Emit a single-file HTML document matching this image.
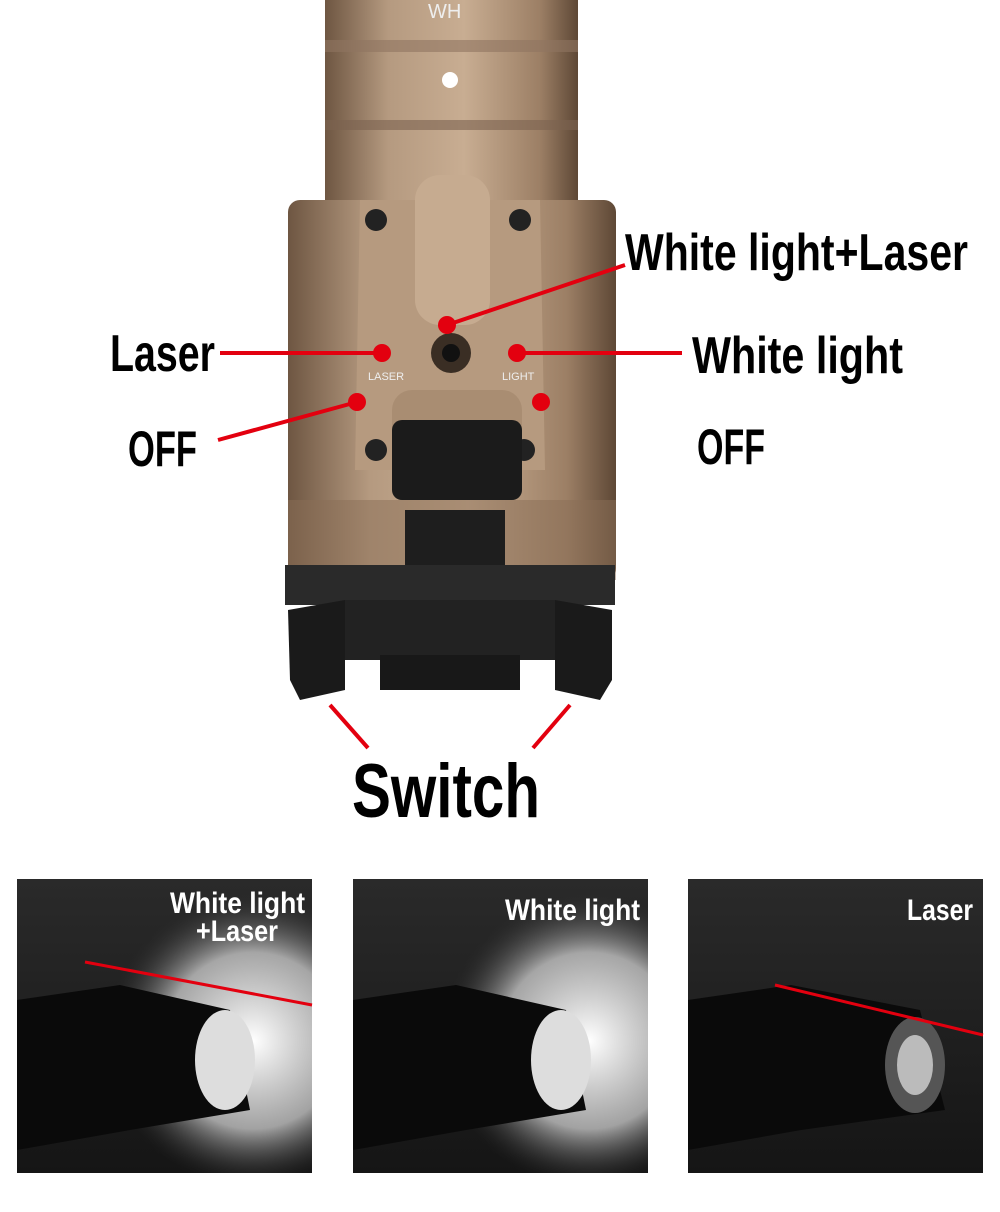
<!DOCTYPE html>
<html><head><meta charset="utf-8"><style>
html,body{margin:0;padding:0;background:#fff;}
svg{display:block}
.t{font-family:"Liberation Sans",sans-serif;font-weight:bold;fill:#000}
.w{font-family:"Liberation Sans",sans-serif;font-weight:bold;fill:#fff}
</style></head><body>
<svg width="1000" height="1212" viewBox="0 0 1000 1212" xmlns="http://www.w3.org/2000/svg">
<defs>
<linearGradient id="tan" x1="0" x2="1" y1="0" y2="0">
<stop offset="0" stop-color="#6e5642"/><stop offset="0.25" stop-color="#b59a80"/><stop offset="0.55" stop-color="#c8ad92"/><stop offset="0.85" stop-color="#9c7f65"/><stop offset="1" stop-color="#5e4836"/>
</linearGradient>
<radialGradient id="beam" cx="0.8" cy="0.55" r="0.5"><stop offset="0" stop-color="#fff"/><stop offset="0.6" stop-color="#ddd" stop-opacity="0.7"/><stop offset="1" stop-color="#333" stop-opacity="0"/></radialGradient>
<linearGradient id="bg" x1="0" x2="0" y1="0" y2="1"><stop offset="0" stop-color="#2a2a2a"/><stop offset="1" stop-color="#151515"/></linearGradient>
</defs>
<rect x="325" y="0" width="253" height="205" fill="url(#tan)"/>
<rect x="325" y="40" width="253" height="12" fill="#8f7560" opacity="0.6"/>
<rect x="325" y="120" width="253" height="10" fill="#7b6350" opacity="0.6"/>
<text x="428" y="18" font-family="Liberation Sans" font-size="20" fill="#eee">WH</text>
<circle cx="450" cy="80" r="8" fill="#fff"/>
<rect x="288" y="200" width="328" height="380" rx="12" fill="url(#tan)"/>
<rect x="288" y="500" width="328" height="80" fill="#8a6e56" opacity="0.5"/>
<path d="M360 200 L540 200 L545 470 L355 470 Z" fill="#b69a7f"/>
<rect x="415" y="175" width="75" height="150" rx="25" fill="#c6ab90"/>
<circle cx="376" cy="220" r="11" fill="#222"/><circle cx="520" cy="220" r="11" fill="#222"/>
<circle cx="376" cy="450" r="11" fill="#222"/><circle cx="524" cy="450" r="11" fill="#222"/>
<circle cx="451" cy="353" r="20" fill="#3a2e24"/><circle cx="451" cy="353" r="9" fill="#111"/>
<rect x="392" y="390" width="130" height="110" rx="20" fill="#a98d72"/>
<rect x="392" y="420" width="130" height="80" rx="10" fill="#1b1b1b"/>
<rect x="405" y="510" width="100" height="80" fill="#1e1e1e"/>
<text x="368" y="380" font-family="Liberation Sans" font-size="11" fill="#eee">LASER</text>
<text x="502" y="380" font-family="Liberation Sans" font-size="11" fill="#eee">LIGHT</text>
<rect x="285" y="565" width="330" height="40" fill="#2a2a2a"/>
<rect x="345" y="600" width="210" height="60" fill="#222"/>
<path d="M288 610 L345 600 L345 690 L300 700 L290 680 Z" fill="#1a1a1a"/>
<path d="M612 610 L555 600 L555 690 L600 700 L612 680 Z" fill="#1a1a1a"/>
<rect x="380" y="655" width="140" height="35" fill="#181818"/>
<g stroke="#e3000f" stroke-width="4" fill="none">
<line x1="220" y1="353" x2="382" y2="353"/>
<line x1="447" y1="325" x2="625" y2="265"/>
<line x1="517" y1="353" x2="682" y2="353"/>
<line x1="218" y1="440" x2="357" y2="402"/>
<line x1="330" y1="705" x2="368" y2="748"/>
<line x1="570" y1="705" x2="533" y2="748"/>
</g>
<g fill="#e3000f">
<circle cx="382" cy="353" r="9"/><circle cx="447" cy="325" r="9"/><circle cx="517" cy="353" r="9"/>
<circle cx="357" cy="402" r="9"/><circle cx="541" cy="402" r="9"/>
</g>
<text class="t" x="110" y="371" font-size="52" textLength="105" lengthAdjust="spacingAndGlyphs">Laser</text>
<text class="t" x="625" y="270" font-size="52" textLength="343" lengthAdjust="spacingAndGlyphs">White light+Laser</text>
<text class="t" x="692" y="373" font-size="52" textLength="211" lengthAdjust="spacingAndGlyphs">White light</text>
<text class="t" x="128" y="466" font-size="50" textLength="69" lengthAdjust="spacingAndGlyphs">OFF</text>
<text class="t" x="697" y="464" font-size="50" textLength="68" lengthAdjust="spacingAndGlyphs">OFF</text>
<text class="t" x="352" y="817" font-size="76" textLength="188" lengthAdjust="spacingAndGlyphs">Switch</text>
<g>
<rect x="17" y="879" width="295" height="294" fill="url(#bg)"/>
<rect x="17" y="879" width="295" height="294" fill="url(#beam)"/>
<path d="M17 1000 L120 985 L230 1010 L250 1110 L130 1130 L17 1150 Z" fill="#0a0a0a"/>
<ellipse cx="225" cy="1060" rx="30" ry="50" fill="#ddd"/>
<line x1="85" y1="962" x2="312" y2="1005" stroke="#e3000f" stroke-width="3"/>
<text class="w" x="170" y="913" font-size="30" textLength="135" lengthAdjust="spacingAndGlyphs">White light</text>
<text class="w" x="196" y="941" font-size="30" textLength="82" lengthAdjust="spacingAndGlyphs">+Laser</text>
</g>
<g>
<rect x="353" y="879" width="295" height="294" fill="url(#bg)"/>
<rect x="353" y="879" width="295" height="294" fill="url(#beam)"/>
<path d="M353 1000 L456 985 L566 1010 L586 1110 L466 1130 L353 1150 Z" fill="#0a0a0a"/>
<ellipse cx="561" cy="1060" rx="30" ry="50" fill="#ddd"/>
<text class="w" x="505" y="920" font-size="30" textLength="135" lengthAdjust="spacingAndGlyphs">White light</text>
</g>
<g>
<rect x="688" y="879" width="295" height="294" fill="url(#bg)"/>
<path d="M688 1000 L791 985 L920 1010 L945 1110 L801 1130 L688 1150 Z" fill="#0a0a0a"/>
<ellipse cx="915" cy="1065" rx="30" ry="48" fill="#555"/>
<ellipse cx="915" cy="1065" rx="18" ry="30" fill="#bbb"/>
<line x1="775" y1="985" x2="983" y2="1035" stroke="#e3000f" stroke-width="3"/>
<text class="w" x="907" y="920" font-size="30" textLength="66" lengthAdjust="spacingAndGlyphs">Laser</text>
</g>
</svg>
</body></html>
